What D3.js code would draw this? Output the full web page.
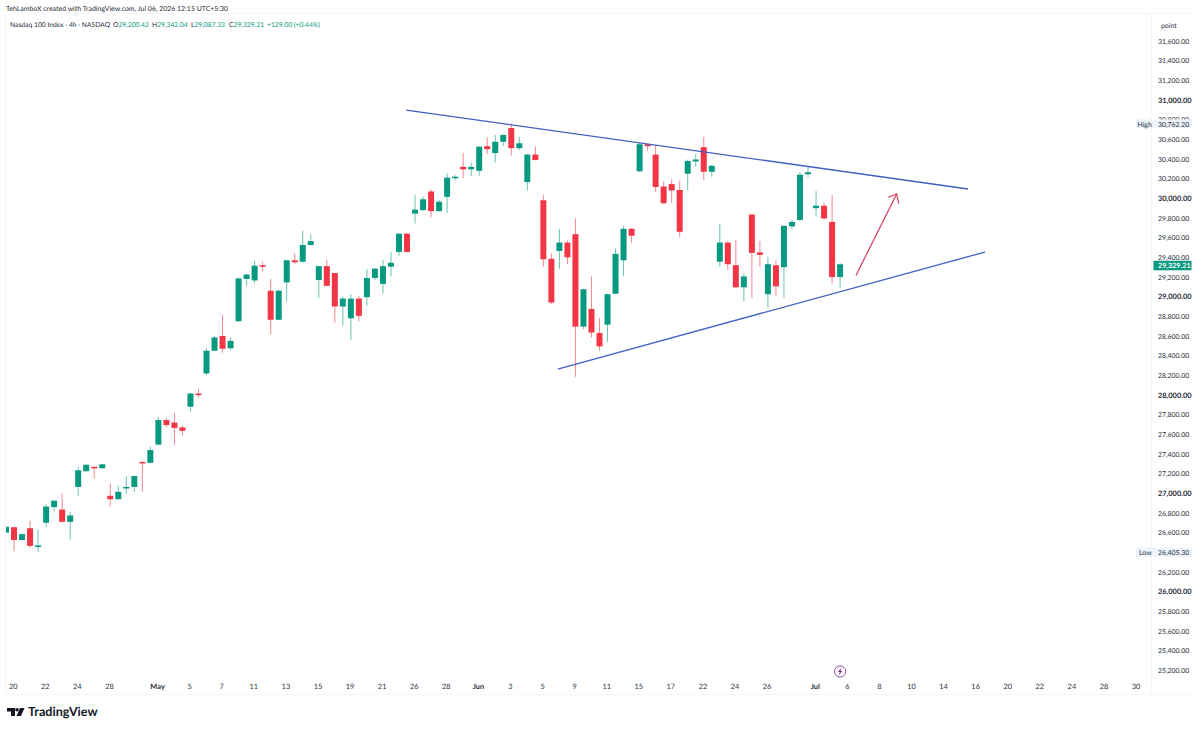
<!DOCTYPE html>
<html>
<head>
<meta charset="utf-8">
<script src="https://cdn.jsdelivr.net/npm/d3@7"></script>
<style>
html,body{margin:0;padding:0;background:#fff;}
svg{display:block;}
text{font-family:Lato,"Noto Sans",sans-serif;text-rendering:geometricPrecision;}
</style>
</head>
<body>
<svg id="chart" width="1200" height="729"></svg>
<script>
// Nasdaq 100 Index, 4h candles
const opens = [26600,26655,26525,26645,26460,26700,26860,26835,26710,27065,27225,27270,27255,26975,26940,27055,27065,27320,27310,27495,27745,27720,27670,27880,28015,28220,28450,28600,28475,28750,29180,29165,29320,29060,28765,29145,29370,29355,29525,29170,29310,29240,28900,28780,28980,28995,29190,29130,29305,29455,29640,29845,29880,30070,29870,30015,30205,30320,30295,30280,30530,30460,30575,30715,30510,30165,30445,29980,29385,29465,29550,29635,28695,28875,28630,28715,29030,29370,29690,30275,30550,30445,30120,30145,30085,30250,30375,30520,30270,29355,29550,29320,29095,29835,29450,29025,29320,29300,29715,29780,30245,29900,29925,29760,29200.42];
const highs = [26660,26660,26590,26720,26630,26885,26930,26995,26810,27270,27295,27270,27300,27100,27075,27175,27180,27320,27475,27775,27765,27815,27690,28020,28060,28475,28600,28815,28585,29195,29230,29365,29355,29180,29070,29375,29440,29670,29635,29315,29375,29245,29000,29025,29010,29280,29290,29375,29450,29645,29650,30035,30015,30090,29985,30255,30235,30460,30365,30530,30620,30645,30650,30762.2,30625,30450,30530,30035,29440,29690,29570,29795,29080,29205,28780,29030,29490,29720,29695,30565,30555,30540,30170,30195,30180,30395,30450,30625,30340,29740,29570,29575,29240,29840,29565,29405,29365,29725,29780,30270,30320,30075,29955,30035,29342.04];
const lows = [26600,26410,26520,26445,26405.3,26655,26820,26705,26530,26975,27220,27150,27250,26870,26935,26995,27015,27015,27305,27490,27670,27495,27585,27830,27975,28200,28445,28430,28455,28745,29110,29135,29255,28620,28760,28955,29330,29345,29520,28985,29105,28735,28705,28560,28750,28910,29170,29030,29205,29415,29445,29745,29875,29805,29865,29850,30185,30205,30225,30230,30450,30365,30535,30435,30490,30080,30385,29305,28925,29285,29330,28185,28670,28585,28450,28540,29025,29210,29545,30270,30485,30065,29945,29955,29605,30080,30320,30185,30220,29300,29270,29090,28955,28985,29305,28890,29010,28985,29685,29770,30215,29815,29785,29135,29087.33];
const closes = [26660,26525,26585,26465,26470,26865,26925,26710,26775,27235,27290,27260,27295,26940,27015,27065,27175,27310,27440,27745,27695,27665,27635,28015,28000,28450,28585,28470,28550,29185,29225,29315,29305,28765,29060,29370,29350,29525,29565,29310,29110,28900,28980,28980,28805,29190,29285,29310,29345,29640,29455,29885,29990,29870,29965,30210,30220,30295,30320,30525,30500,30575,30645,30510,30560,30445,30390,29380,28940,29550,29400,28695,29075,28635,28495,29025,29435,29690,29620,30550,30530,30115,29950,30080,29660,30380,30395,30270,30330,29550,29330,29095,29205,29445,29425,29330,29105,29720,29760,30240,30265,29925,29795,29200,29329.21];

const lastClose = 29329.21;
const sessionHigh = 30762.20;
const sessionLow = 26405.30;

const priceTicks = d3.range(25200, 31601, 200);
const dateLabels = ["20","22","24","28","May","5","7","11","13","15","19","21","26","28","Jun","3","5","9","11","15","17","22","24","26","Jul","6","8","10","14","16","20","22","24","28","30"];
const dateBars = [0.9,4.9,8.9,12.9,18.9,22.9,26.9,30.9,34.9,38.9,42.9,46.9,50.9,54.9,58.9,62.9,66.9,70.9,74.9,78.9,82.9,86.9,90.9,94.9,100.9,104.9,108.9,112.9,116.9,120.9,124.9,128.9,132.9,136.9,140.9];
const monthNames = ["May","Jun","Jul"];

// Drawn trendlines and arrow as [bar, price] anchors
const upperTrend = [[49.9,30898],[119.95,30095]];
const lowerTrend = [[68.8,28264],[122.07,29454]];
const arrowShaft = [[106,29220],[111.05,30044]];
const arrowWingA = [[110.05,30013],[111.05,30044]];
const arrowWingB = [[111.3,29952],[111.05,30044]];

const colors = {up:"#089981", down:"#F23645", trend:"#3f60c4", arrow:"#d9405e", text:"#2a2e39"};

const svg = d3.select("#chart");
const x = d3.scaleLinear().domain([0,104]).range([6,840.1]);
const y = d3.scaleLinear().domain([25200,31600]).range([670.3,41]);

const plotLeft = 6, plotRight = 1151, plotTop = 14, plotBottom = 694;
svg.append("clipPath").attr("id","plot").append("rect")
  .attr("x",plotLeft).attr("y",plotTop).attr("width",plotRight-plotLeft).attr("height",plotBottom-plotTop);

// Pane frame
const frame = svg.append("g").attr("stroke","#f5f6f8").attr("fill","none");
frame.append("line").attr("x1",plotLeft-.5).attr("x2",plotLeft-.5).attr("y1",plotTop).attr("y2",plotBottom);
frame.append("line").attr("x1",plotRight+.5).attr("x2",plotRight+.5).attr("y1",plotTop).attr("y2",plotBottom);
frame.append("line").attr("x1",plotLeft).attr("x2",1192).attr("y1",plotBottom+.5).attr("y2",plotBottom+.5);
frame.append("line").attr("x1",plotLeft).attr("x2",1192).attr("y1",plotTop-.5).attr("y2",plotTop-.5);

// Candles
const bars = d3.range(opens.length).map(i => ({i, o:opens[i], h:highs[i], l:lows[i], c:closes[i]}));
const candles = svg.append("g").attr("clip-path","url(#plot)");
const tone = d => d.c >= d.o ? colors.up : colors.down;
candles.selectAll("line.wick").data(bars).join("line")
  .attr("class","wick")
  .attr("x1",d=>x(d.i)).attr("x2",d=>x(d.i))
  .attr("y1",d=>y(d.h)).attr("y2",d=>y(d.l))
  .attr("stroke",tone).attr("stroke-opacity",.6).attr("stroke-width",1);
candles.selectAll("rect.body").data(bars).join("rect")
  .attr("class","body")
  .attr("x",d=>x(d.i)-3).attr("width",6)
  .attr("y",d=>y(Math.max(d.o,d.c)))
  .attr("height",d=>Math.max(1.6,Math.abs(y(d.o)-y(d.c))))
  .attr("fill",tone);

// Annotations on the price pane
const anchor = d3.line().x(d=>x(d[0])).y(d=>y(d[1]));
[upperTrend,lowerTrend].forEach(seg=>{
  svg.append("path").attr("d",anchor(seg)).attr("fill","none")
    .attr("stroke",colors.trend).attr("stroke-width",1.3);
});
[arrowShaft,arrowWingA,arrowWingB].forEach(seg=>{
  svg.append("path").attr("d",anchor(seg)).attr("fill","none")
    .attr("stroke",colors.arrow).attr("stroke-width",1.2).attr("stroke-linecap","round");
});

// Price axis
const axisSize = 6.9;
const priceAxis = svg.append("g");
priceAxis.selectAll("text").data(priceTicks).join("text")
  .attr("x",1158).attr("y",d=>y(d)+2.6)
  .attr("font-size",d=>d%1000===0?7.4:axisSize)
  .attr("font-weight",d=>d%1000===0?700:400)
  .attr("fill",colors.text)
  .text(d=>d3.format(",.2f")(d));

svg.append("rect").attr("x",1153).attr("y",19).attr("width",38).attr("height",13).attr("fill","#fff");
svg.append("text").attr("x",1161).attr("y",27.5).attr("font-size",axisSize).attr("fill",colors.text).text("point");

// High and low badges
[["High",sessionHigh],["Low",sessionLow]].forEach(([name,val])=>{
  const cy = y(val);
  svg.append("rect").attr("x",1136).attr("y",cy-4).attr("width",56).attr("height",9).attr("fill","#edf2fb");
  svg.append("text").attr("x",name==="High"?1137.5:1139).attr("y",cy+3.2).attr("font-size",axisSize).attr("fill",colors.text).text(name);
  svg.append("text").attr("x",1158).attr("y",cy+3.2).attr("font-size",axisSize).attr("fill",colors.text).text(d3.format(",.2f")(val));
});

// Last price badge
svg.append("rect").attr("x",1153.5).attr("y",y(lastClose)-3.5).attr("width",38).attr("height",9.5).attr("fill",colors.up);
svg.append("text").attr("x",1158).attr("y",y(lastClose)+3.9).attr("font-size",7.2).attr("font-weight",700).attr("fill","#fff")
  .text(d3.format(",.2f")(lastClose));

// Date axis
svg.append("g").selectAll("text").data(dateLabels).join("text")
  .attr("x",(d,i)=>x(dateBars[i])).attr("y",689.3)
  .attr("text-anchor","middle").attr("font-size",7.4)
  .attr("font-weight",d=>monthNames.includes(d)?700:400)
  .attr("fill",colors.text)
  .text(d=>d);

// Event marker above the date axis
const marker = svg.append("g").attr("transform",`translate(${x(104)},671.5)`);
marker.append("circle").attr("r",5.6).attr("fill","#fff").attr("stroke","#8e4aa8").attr("stroke-width",1);
marker.append("path").attr("d","M1.6,-4 L-2.2,0.6 L-0.2,0.6 L-1.6,4 L2.3,-0.8 L0.2,-0.8 Z").attr("fill","#6d2a86");

// Header lines
svg.append("text").attr("x",6).attr("y",10.5).attr("font-size",6.95).attr("fill",colors.text)
  .text("TehLamboX created with TradingView.com, Jul 06, 2026 12:15 UTC+5:30");
const legend = svg.append("text").attr("x",10).attr("y",26.5).attr("font-size",6.75).attr("fill",colors.text);
legend.append("tspan").text("Nasdaq 100 Index · 4h · NASDAQ");
[["O","29,200.42",113],["H","29,342.04",152],["L","29,087.33",191],["C","29,329.21",229]].forEach(([k,v,px])=>{
  legend.append("tspan").attr("x",px).text(k);
  legend.append("tspan").attr("fill",colors.up).text(v);
});
legend.append("tspan").attr("x",267).attr("fill",colors.up).text("+129.00 (+0.44%)");

// Brand mark
const brand = svg.append("g").attr("fill","#131722");
brand.append("path").attr("d","M7,708 H15 V716 H11 V711.5 H7 Z");
brand.append("circle").attr("cx",17).attr("cy",709.8).attr("r",1.8);
brand.append("path").attr("d","M20,708 H24.5 L21,716 H16.5 Z");
svg.append("text").attr("x",28).attr("y",716).attr("font-size",12.6).attr("font-weight",700)
  .attr("fill","#131722").text("TradingView");
</script>
</body>
</html>
